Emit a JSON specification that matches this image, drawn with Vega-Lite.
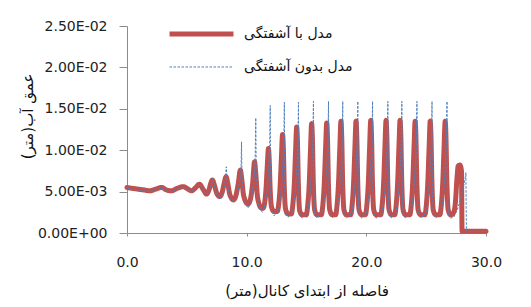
{
  "$schema": "https://vega.github.io/schema/vega-lite/v6.json",
  "width": 359,
  "height": 207,
  "autosize": "none",
  "padding": {"left": 127, "top": 26, "right": 45, "bottom": 74},
  "background": "white",
  "config": {
    "view": {"stroke": null},
    "font": "DejaVu Sans",
    "axis": {"grid": false, "domainColor": "#8c8c8c", "tickColor": "#8c8c8c", "labelColor": "#222222", "titleColor": "#111111", "labelFont": "DejaVu Sans", "titleFont": "DejaVu Sans", "labelFontSize": 14, "titleFontSize": 15, "titleFontWeight": "normal"}
  },
  "datasets": {
    "red": [
      {"x":0.0,"y":0.0055},{"x":0.4,"y":0.0054},{"x":0.9,"y":0.0053},{"x":1.4,"y":0.0052},{"x":1.9,"y":0.0051},{"x":2.4,"y":0.0053},{"x":2.9,"y":0.0055},{"x":3.3,"y":0.0052},{"x":3.7,"y":0.0051},{"x":4.2,"y":0.0054},{"x":4.7,"y":0.0056},{"x":5.1,"y":0.0053},{"x":5.4,"y":0.0051},{"x":5.75,"y":0.0055},{"x":6.05,"y":0.0059},{"x":6.35,"y":0.0053},{"x":6.65,"y":0.0047},
      {"x":6.85,"y":0.0052},{"x":7.0,"y":0.006},{"x":7.14,"y":0.0064},{"x":7.3,"y":0.0058},{"x":7.5,"y":0.0048},{"x":7.75,"y":0.0044},
      {"x":7.95,"y":0.0049},{"x":8.12,"y":0.006},{"x":8.28,"y":0.0068},{"x":8.42,"y":0.006},{"x":8.6,"y":0.0046},{"x":8.9,"y":0.004},
      {"x":9.1,"y":0.0045},{"x":9.3,"y":0.006},{"x":9.47,"y":0.0076},{"x":9.58,"y":0.0066},{"x":9.75,"y":0.0045},{"x":10.1,"y":0.0035},
      {"x":10.3,"y":0.004},{"x":10.5,"y":0.006},{"x":10.66,"y":0.0086},{"x":10.76,"y":0.0072},{"x":10.92,"y":0.0042},{"x":11.25,"y":0.003},
      {"x":11.37,"y":0.003},{"x":11.49,"y":0.0035},{"x":11.62,"y":0.0054},{"x":11.72,"y":0.008},{"x":11.82,"y":0.0102},{"x":11.88,"y":0.009},{"x":11.96,"y":0.0054},{"x":12.07,"y":0.0032},{"x":12.27,"y":0.0026},
      {"x":12.55,"y":0.0026},{"x":12.67,"y":0.0034},{"x":12.8,"y":0.0057},{"x":12.9,"y":0.009},{"x":13.0,"y":0.0119},{"x":13.06,"y":0.0105},{"x":13.14,"y":0.0057},{"x":13.25,"y":0.0029},{"x":13.45,"y":0.0023},
      {"x":13.73,"y":0.0023},{"x":13.85,"y":0.0033},{"x":13.98,"y":0.0059},{"x":14.08,"y":0.0096},{"x":14.18,"y":0.0128},{"x":14.24,"y":0.0112},{"x":14.32,"y":0.0059},{"x":14.43,"y":0.0027},{"x":14.63,"y":0.0022},
      {"x":14.98,"y":0.0022},{"x":15.1,"y":0.0033},{"x":15.23,"y":0.006},{"x":15.33,"y":0.0099},{"x":15.43,"y":0.0132},{"x":15.49,"y":0.0116},{"x":15.57,"y":0.006},{"x":15.68,"y":0.0028},{"x":15.88,"y":0.0022},
      {"x":16.24,"y":0.0022},{"x":16.36,"y":0.0033},{"x":16.49,"y":0.0061},{"x":16.59,"y":0.01},{"x":16.69,"y":0.0133},{"x":16.75,"y":0.0117},{"x":16.83,"y":0.0061},{"x":16.94,"y":0.0028},{"x":17.14,"y":0.0022},
      {"x":17.43,"y":0.0022},{"x":17.55,"y":0.0033},{"x":17.68,"y":0.0062},{"x":17.78,"y":0.0101},{"x":17.88,"y":0.0135},{"x":17.94,"y":0.0118},{"x":18.02,"y":0.0062},{"x":18.13,"y":0.0028},{"x":18.33,"y":0.0022},
      {"x":18.69,"y":0.0022},{"x":18.81,"y":0.0033},{"x":18.94,"y":0.0062},{"x":19.04,"y":0.0101},{"x":19.14,"y":0.0135},{"x":19.2,"y":0.0118},{"x":19.28,"y":0.0062},{"x":19.39,"y":0.0028},{"x":19.59,"y":0.0022},
      {"x":19.92,"y":0.0022},{"x":20.04,"y":0.0033},{"x":20.17,"y":0.0062},{"x":20.27,"y":0.0102},{"x":20.37,"y":0.0136},{"x":20.43,"y":0.0119},{"x":20.51,"y":0.0062},{"x":20.62,"y":0.0028},{"x":20.82,"y":0.0022},
      {"x":21.2,"y":0.0022},{"x":21.32,"y":0.0033},{"x":21.45,"y":0.0062},{"x":21.55,"y":0.0102},{"x":21.65,"y":0.0136},{"x":21.71,"y":0.0119},{"x":21.79,"y":0.0062},{"x":21.9,"y":0.0028},{"x":22.1,"y":0.0022},
      {"x":22.37,"y":0.0022},{"x":22.49,"y":0.0033},{"x":22.62,"y":0.0062},{"x":22.72,"y":0.0102},{"x":22.82,"y":0.0136},{"x":22.88,"y":0.0119},{"x":22.96,"y":0.0062},{"x":23.07,"y":0.0028},{"x":23.27,"y":0.0022},
      {"x":23.63,"y":0.0022},{"x":23.75,"y":0.0033},{"x":23.88,"y":0.0062},{"x":23.98,"y":0.0101},{"x":24.08,"y":0.0135},{"x":24.14,"y":0.0118},{"x":24.22,"y":0.0062},{"x":24.33,"y":0.0028},{"x":24.53,"y":0.0022},
      {"x":24.89,"y":0.0022},{"x":25.01,"y":0.0033},{"x":25.14,"y":0.0062},{"x":25.24,"y":0.0101},{"x":25.34,"y":0.0135},{"x":25.4,"y":0.0118},{"x":25.48,"y":0.0062},{"x":25.59,"y":0.0028},{"x":25.79,"y":0.0022},
      {"x":26.14,"y":0.0022},{"x":26.26,"y":0.0033},{"x":26.39,"y":0.0062},{"x":26.49,"y":0.0101},{"x":26.59,"y":0.0135},{"x":26.65,"y":0.0118},{"x":26.73,"y":0.0062},{"x":26.84,"y":0.0028},{"x":27.04,"y":0.0022},
      {"x":27.3,"y":0.0025},{"x":27.45,"y":0.0038},{"x":27.57,"y":0.0065},{"x":27.68,"y":0.0081},{"x":27.82,"y":0.0082},{"x":27.95,"y":0.0075},{"x":28.0,"y":0.0002},{"x":30.0,"y":0.0002}
    ],
    "blue": [
      {"x":0.0,"y":0.0054},{"x":0.4,"y":0.0053},{"x":0.9,"y":0.0052},{"x":1.4,"y":0.0051},{"x":1.9,"y":0.005},{"x":2.4,"y":0.0052},{"x":2.9,"y":0.0054},{"x":3.3,"y":0.0051},{"x":3.7,"y":0.005},{"x":4.2,"y":0.0053},{"x":4.7,"y":0.0055},{"x":5.1,"y":0.0052},{"x":5.4,"y":0.005},{"x":5.75,"y":0.0054},{"x":6.08,"y":0.0059},{"x":6.4,"y":0.0051},{"x":6.7,"y":0.0046},
      {"x":6.9,"y":0.0051},{"x":7.05,"y":0.0059},{"x":7.18,"y":0.0066},{"x":7.32,"y":0.0055},{"x":7.55,"y":0.0045},{"x":7.8,"y":0.0041},
      {"x":8.0,"y":0.0046},{"x":8.18,"y":0.0058},{"x":8.3,"y":0.008},{"x":8.36,"y":0.0062},{"x":8.55,"y":0.0044},{"x":8.95,"y":0.0037},
      {"x":9.2,"y":0.0042},{"x":9.38,"y":0.006},{"x":9.52,"y":0.0072},{"x":9.57,"y":0.011},{"x":9.61,"y":0.0065},{"x":9.78,"y":0.004},{"x":10.1,"y":0.003},
      {"x":10.35,"y":0.0036},{"x":10.55,"y":0.0058},{"x":10.7,"y":0.008},{"x":10.76,"y":0.0139},{"x":10.8,"y":0.007},{"x":10.97,"y":0.0035},{"x":11.3,"y":0.0025},
      {"x":11.47,"y":0.003},{"x":11.67,"y":0.0045},{"x":11.82,"y":0.0072},{"x":11.92,"y":0.0105},{"x":11.97,"y":0.0154},{"x":12.0,"y":0.005},{"x":12.08,"y":0.0027},{"x":12.27,"y":0.0021},
      {"x":12.65,"y":0.0025},{"x":12.85,"y":0.0045},{"x":13.0,"y":0.0075},{"x":13.1,"y":0.011},{"x":13.15,"y":0.0158},{"x":13.18,"y":0.005},{"x":13.26,"y":0.0024},{"x":13.45,"y":0.0019},
      {"x":13.83,"y":0.0024},{"x":14.03,"y":0.0045},{"x":14.18,"y":0.0077},{"x":14.28,"y":0.0112},{"x":14.33,"y":0.0158},{"x":14.36,"y":0.005},{"x":14.44,"y":0.0023},{"x":14.63,"y":0.0018},
      {"x":15.08,"y":0.0024},{"x":15.28,"y":0.0045},{"x":15.43,"y":0.0078},{"x":15.53,"y":0.0113},{"x":15.58,"y":0.0159},{"x":15.61,"y":0.005},{"x":15.69,"y":0.0023},{"x":15.88,"y":0.0018},
      {"x":16.34,"y":0.0024},{"x":16.54,"y":0.0045},{"x":16.69,"y":0.0078},{"x":16.79,"y":0.0113},{"x":16.84,"y":0.0159},{"x":16.87,"y":0.005},{"x":16.95,"y":0.0023},{"x":17.14,"y":0.0018},
      {"x":17.53,"y":0.0024},{"x":17.73,"y":0.0045},{"x":17.88,"y":0.0078},{"x":17.98,"y":0.0113},{"x":18.03,"y":0.0159},{"x":18.06,"y":0.005},{"x":18.14,"y":0.0023},{"x":18.33,"y":0.0018},
      {"x":18.79,"y":0.0024},{"x":18.99,"y":0.0045},{"x":19.14,"y":0.0078},{"x":19.24,"y":0.0113},{"x":19.29,"y":0.0159},{"x":19.32,"y":0.005},{"x":19.4,"y":0.0023},{"x":19.59,"y":0.0018},
      {"x":20.02,"y":0.0024},{"x":20.22,"y":0.0045},{"x":20.37,"y":0.0078},{"x":20.47,"y":0.0113},{"x":20.52,"y":0.0159},{"x":20.55,"y":0.005},{"x":20.63,"y":0.0023},{"x":20.82,"y":0.0018},
      {"x":21.3,"y":0.0024},{"x":21.5,"y":0.0045},{"x":21.65,"y":0.0078},{"x":21.75,"y":0.0113},{"x":21.8,"y":0.0159},{"x":21.83,"y":0.005},{"x":21.91,"y":0.0023},{"x":22.1,"y":0.0018},
      {"x":22.47,"y":0.0024},{"x":22.67,"y":0.0045},{"x":22.82,"y":0.0078},{"x":22.92,"y":0.0113},{"x":22.97,"y":0.0159},{"x":23.0,"y":0.005},{"x":23.08,"y":0.0023},{"x":23.27,"y":0.0018},
      {"x":23.73,"y":0.0024},{"x":23.93,"y":0.0045},{"x":24.08,"y":0.0078},{"x":24.18,"y":0.0113},{"x":24.23,"y":0.0159},{"x":24.26,"y":0.005},{"x":24.34,"y":0.0023},{"x":24.53,"y":0.0018},
      {"x":24.99,"y":0.0024},{"x":25.19,"y":0.0045},{"x":25.34,"y":0.0078},{"x":25.44,"y":0.0113},{"x":25.49,"y":0.0159},{"x":25.52,"y":0.005},{"x":25.6,"y":0.0023},{"x":25.79,"y":0.0018},
      {"x":26.24,"y":0.0024},{"x":26.44,"y":0.0045},{"x":26.59,"y":0.0078},{"x":26.69,"y":0.0113},{"x":26.74,"y":0.0159},{"x":26.77,"y":0.005},{"x":26.85,"y":0.0023},{"x":27.04,"y":0.0018},
      {"x":27.3,"y":0.0019},{"x":27.6,"y":0.0028},{"x":27.9,"y":0.0042},{"x":28.1,"y":0.0055},{"x":28.25,"y":0.0065},{"x":28.32,"y":0.0073},{"x":28.36,"y":0.0002},{"x":30.0,"y":0.0002}
    ]
  },
  "layer": [
    {
      "data": {"name": "red"},
      "mark": {"type": "line", "strokeJoin": "round", "strokeCap": "round", "interpolate": "monotone"},
      "encoding": {
        "x": {"field": "x", "type": "quantitative", "scale": {"domain": [0, 30], "nice": false},
              "axis": {"values": [0, 10, 20, 30], "format": ".1f", "title": "فاصله از ابتدای کانال(متر)", "tickSize": 3, "labelPadding": 19, "titlePadding": 14, "labelFlush": false}},
        "y": {"field": "y", "type": "quantitative", "scale": {"domain": [0, 0.025], "nice": false},
              "axis": {"values": [0, 0.005, 0.01, 0.015, 0.02, 0.025], "title": "عمق آب(متر)", "tickSize": 8, "labelPadding": 12, "titlePadding": 2, "titleY": 90,
                       "labelExpr": "datum.value == 0 ? '0.00E+00' : (datum.value < 0.0099 ? format(datum.value*1000, '.2f') + 'E-03' : format(datum.value*100, '.2f') + 'E-02')"}},
        "color": {"datum": "r", "type": "nominal", "scale": {"domain": ["r", "b"], "range": ["#C0504D", "#4F81BD"]},
                  "legend": {"orient": "none", "legendX": 40, "legendY": -2, "title": null, "symbolType": "stroke", "symbolSize": 4096, "clipHeight": 20, "labelFontSize": 14, "labelColor": "#111111", "labelOffset": 8, "rowPadding": 13,
                             "labelExpr": "datum.label == 'r' ? 'مدل با آشفتگی' : 'مدل بدون آشفتگی'"}},
        "strokeDash": {"datum": "r", "type": "nominal", "scale": {"domain": ["r", "b"], "range": [[1, 0], [2.5, 1.5]]},
                  "legend": {"orient": "none", "legendX": 40, "legendY": -2, "title": null, "symbolType": "stroke", "symbolSize": 4096, "clipHeight": 20, "labelFontSize": 14, "labelColor": "#111111", "labelOffset": 8, "rowPadding": 13,
                             "labelExpr": "datum.label == 'r' ? 'مدل با آشفتگی' : 'مدل بدون آشفتگی'"}},
        "strokeWidth": {"datum": "r", "type": "nominal", "scale": {"domain": ["r", "b"], "range": [5, 1]},
                  "legend": {"orient": "none", "legendX": 40, "legendY": -2, "title": null, "symbolType": "stroke", "symbolSize": 4096, "clipHeight": 20, "labelFontSize": 14, "labelColor": "#111111", "labelOffset": 8, "rowPadding": 13,
                             "labelExpr": "datum.label == 'r' ? 'مدل با آشفتگی' : 'مدل بدون آشفتگی'"}}
      }
    },
    {
      "data": {"name": "blue"},
      "mark": {"type": "line", "strokeJoin": "round"},
      "encoding": {
        "x": {"field": "x", "type": "quantitative"},
        "y": {"field": "y", "type": "quantitative"},
        "color": {"datum": "b", "type": "nominal"},
        "strokeDash": {"datum": "b", "type": "nominal"},
        "strokeWidth": {"datum": "b", "type": "nominal"}
      }
    }
  ]
}
